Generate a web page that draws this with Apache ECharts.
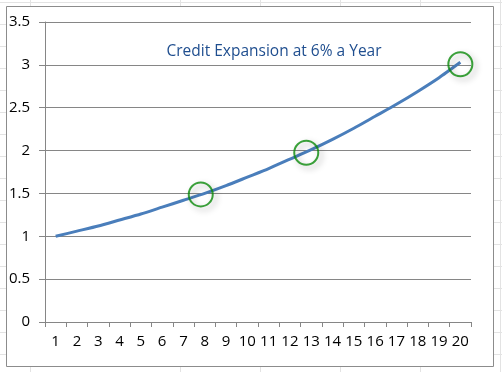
<!DOCTYPE html>
<html>
<head>
<meta charset="utf-8">
<script src="https://cdn.jsdelivr.net/npm/echarts@6/dist/echarts.min.js"></script>
<style>
html,body{margin:0;padding:0;background:#fff;}
#chart{width:502px;height:372px;}
</style>
</head>
<body>
<div id="chart"></div>
<script>
// ---- data ----
var categories = ['1','2','3','4','5','6','7','8','9','10','11','12','13','14','15','16','17','18','19','20'];
var creditValues = [1.00, 1.06, 1.12, 1.19, 1.26, 1.34, 1.42, 1.50, 1.59, 1.69, 1.79, 1.90, 2.01, 2.13, 2.26, 2.40, 2.54, 2.69, 2.85, 3.03];
var highlightIndexes = [7, 12, 19];
var highlightOffsets = [[-4, 1], [-5, 3], [0, 2]];
var yTicks = [0, 0.5, 1, 1.5, 2, 2.5, 3, 3.5];
var titleText = 'Credit Expansion at 6% a Year';

var FONT = '"Open Sans", "Noto Sans", sans-serif';

var highlightData = highlightIndexes.map(function (i, k) {
  return { value: [categories[i], creditValues[i]], symbolOffset: highlightOffsets[k] };
});

// faint spreadsheet cell lines behind the chart frame
var cellLines = [];
var rowY = [2, 24, 46, 68, 90, 112, 134, 156, 178, 200, 222, 244, 266, 288, 310, 332, 354];
var colX = [30, 180, 260, 340, 420, 500];
rowY.forEach(function (y) {
  cellLines.push({ type: 'line', z: -100, silent: true,
    shape: { x1: 0, y1: y + 0.5, x2: 502, y2: y + 0.5 },
    style: { stroke: '#e3e3e3', lineWidth: 1 } });
});
colX.forEach(function (x) {
  cellLines.push({ type: 'line', z: -100, silent: true,
    shape: { x1: x + 0.5, y1: 0, x2: x + 0.5, y2: 372 },
    style: { stroke: '#e3e3e3', lineWidth: 1 } });
});

var chart = echarts.init(document.getElementById('chart'), null, { renderer: 'canvas' });
chart.setOption({
  animation: false,
  backgroundColor: '#ffffff',
  textStyle: { fontFamily: FONT },
  graphic: cellLines.concat([
    { type: 'rect', z: -90, silent: true,
      shape: { x: 6.5, y: 6.5, width: 487, height: 360 },
      style: { fill: '#ffffff', stroke: '#8c8c8c', lineWidth: 1 } },
    { type: 'text', z: 10, silent: true, x: 274, y: 52,
      style: { text: titleText, fill: '#1f4e8f', font: '15.5px ' + FONT,
        textAlign: 'center', textVerticalAlign: 'middle' } }
  ]),
  grid: { left: 45, right: 31, top: 22, bottom: 50, containLabel: false },
  xAxis: {
    type: 'category',
    data: categories,
    boundaryGap: true,
    axisLine: { show: true, lineStyle: { color: '#868686', width: 1 } },
    axisTick: { show: true, interval: 0, length: 5, lineStyle: { color: '#868686' } },
    axisLabel: { interval: 0, color: '#000', fontSize: 15, fontFamily: FONT, margin: 12 },
    splitLine: { show: false }
  },
  yAxis: {
    type: 'value',
    min: yTicks[0],
    max: yTicks[yTicks.length - 1],
    interval: 0.5,
    axisLine: { show: true, lineStyle: { color: '#868686', width: 1 } },
    axisTick: { show: true, length: 6, lineStyle: { color: '#868686' } },
    axisLabel: { color: '#000', fontSize: 15, fontFamily: FONT, margin: 15 },
    splitLine: { show: true, lineStyle: { color: '#868686', width: 1 } }
  },
  series: [
    {
      type: 'line',
      data: creditValues,
      symbol: 'none',
      smooth: 0.2,
      lineStyle: { color: '#4a7ebb', width: 3 },
      z: 3
    },
    {
      type: 'scatter',
      data: highlightData,
      symbol: 'circle',
      symbolSize: 24,
      itemStyle: {
        color: 'rgba(0,0,0,0)',
        borderColor: '#0a8a0a',
        borderWidth: 2,
        shadowBlur: 6,
        shadowColor: 'rgba(0,0,0,0.35)',
        shadowOffsetX: 3,
        shadowOffsetY: 3
      },
      z: 4
    }
  ]
});
</script>
</body>
</html>
